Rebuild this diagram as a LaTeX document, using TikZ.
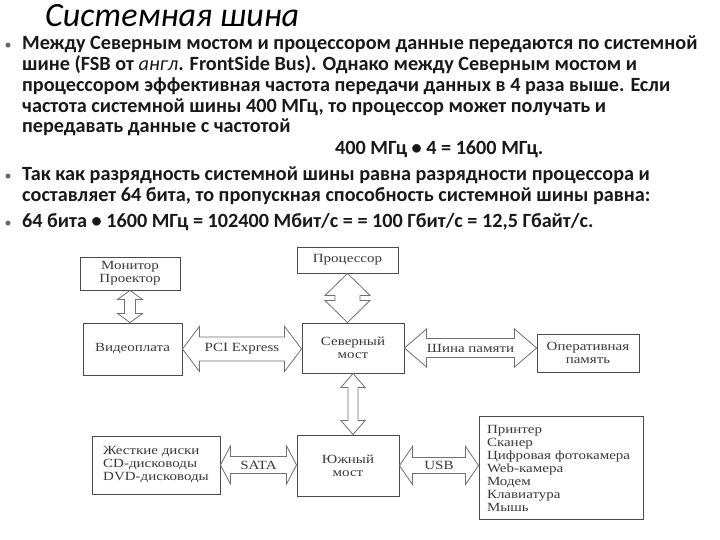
\documentclass[tikz,border=0pt]{standalone}
\usepackage{fontspec}
\setmainfont{Carlito}
\newfontfamily\figfont[FakeStretch=1.2]{Liberation Serif}
\usetikzlibrary{calc}
\definecolor{sLine}{HTML}{4A4A4A}
\definecolor{sArrow}{HTML}{707070}
\definecolor{sText}{HTML}{3A3A3A}
\tikzset{
  sbox/.style={draw=sLine, line width=0.9pt, fill=white, align=center,
               font=\figfont\fontsize{12.5}{13}\selectfont, text=sText, inner sep=2pt},
  sbus/.style={draw=sArrow, line width=0.8pt, fill=white},
  slbl/.style={font=\figfont\fontsize{12.5}{13}\selectfont, text=sText, inner sep=1pt},
  sline/.style={anchor=base west, font=\fontsize{20.2}{20.7}\selectfont\bfseries,
                text=black!90, inner sep=0pt},
  sdot/.style={anchor=base, font=\fontsize{14}{14}\selectfont, text=black!60, inner sep=0pt},
}
% wide two-headed bus arrows: from, to, shaft half width, head half width, head length
\newcommand\hbus[5]{%
  \draw[sbus] let \p1=(#1.east), \p2=(#2.west) in
    (\x1,\y1) -- (\x1+#5,\y1+#4) -- (\x1+#5,\y1+#3) -- (\x2-#5,\y1+#3)
    -- (\x2-#5,\y1+#4) -- (\x2,\y1) -- (\x2-#5,\y1-#4) -- (\x2-#5,\y1-#3)
    -- (\x1+#5,\y1-#3) -- (\x1+#5,\y1-#4) -- cycle;}
\newcommand\vbus[5]{%
  \draw[sbus] let \p1=(#1.south), \p2=(#2.north) in
    (\x1,\y1) -- (\x1+#4,\y1-#5) -- (\x1+#3,\y1-#5) -- (\x1+#3,\y2+#5)
    -- (\x1+#4,\y2+#5) -- (\x1,\y2) -- (\x1-#4,\y2+#5) -- (\x1-#3,\y2+#5)
    -- (\x1-#3,\y1-#5) -- (\x1-#4,\y1-#5) -- cycle;}

\begin{document}
\begin{tikzpicture}[x=1pt, y=-1pt]
  \useasboundingbox (0,0) rectangle (720,540);
  \fill[white] (0,0) rectangle (720,540);

  % title and text
  \node[anchor=base west, inner sep=0pt, font=\fontsize{34}{34}\selectfont\itshape]
    (title) at (45,26.5) {Системная шина};
  \node[sdot] (dot1) at (8,50) {•};
  \foreach \ln [count=\i from 0] in {
      {Между Северным мостом и процессором данные передаются по системной},
      {шине (FSB от {\mdseries\itshape англ}. FrontSide Bus). Однако между Северным мостом и},
      {процессором эффективная частота передачи данных в 4 раза выше. Если},
      {частота системной шины 400 МГц, то процессор может получать и},
      {передавать данные с частотой}}
    \node[sline] (bA\i) at (22,50+20.7*\i) {\ln};
  \node[sline] (calc) at (335,155) {400 МГц • 4 = 1600 МГц.};
  \node[sdot] (dot2) at (8,181) {•};
  \node[sline] (bB0) at (22,181) {Так как разрядность системной шины равна разрядности процессора и};
  \node[sline] (bB1) at (22,201.7) {составляет 64 бита, то пропускная способность системной шины равна:};
  \node[sdot] (dot3) at (8,227) {•};
  \node[sline] (bC0) at (22,227) {64 бита • 1600 МГц = 102400 Мбит/с = = 100 Гбит/с = 12,5 Гбайт/с.};

  % blocks
  \node[sbox, minimum width=100, minimum height=33] (mon)   at (130,273.5) {Монитор\\Проектор};
  \node[sbox, minimum width=99,  minimum height=52] (video) at (132.5,349) {Видеоплата};
  \node[sbox, minimum width=101, minimum height=26] (cpu)   at (347.5,260) {Процессор};
  \node[sbox, minimum width=102, minimum height=50] (north) at (353,348) {Северный\\мост};
  \node[sbox, minimum width=102, minimum height=38] (ram)   at (588,353) {Оперативная\\память};
  \node[sbox, minimum width=102, minimum height=61] (south) at (348,465.5) {Южный\\мост};
  \node[sbox, minimum width=128, minimum height=58, align=left] (disk) at (156,465)
    {Жесткие диски\\CD-дисководы\\DVD-дисководы};
  \node[sbox, text width=148, minimum height=100, inner sep=8pt, align=left] (usbdev) at (561,468)
    {Принтер\\Сканер\\Цифровая фотокамера\\Web-камера\\Модем\\Клавиатура\\Мышь};

  % buses
  \vbus{mon}{video}{5.5}{12.5}{9}
  \vbus{cpu}{north}{12.5}{22.5}{22}
  \vbus{north}{south}{5}{12}{14}
  \hbus{video}{north}{12}{22.5}{17}
  \hbus{north}{ram}{9.5}{19}{22}
  \hbus{disk}{south}{8.5}{19}{10}
  \hbus{south}{usbdev}{8}{19}{13}
  \node[slbl] (pci)  at ($(video.east)!0.5!(north.west |- video.east)$) {PCI Express};
  \node[slbl] (mbus) at ($(north.east)!0.5!(ram.west |- north.east)$) {Шина памяти};
  \node[slbl] (sata) at ($(disk.east)!0.5!(south.west |- disk.east)$) {SATA};
  \node[slbl] (usb)  at ($(south.east)!0.5!(usbdev.west |- south.east)$) {USB};
\end{tikzpicture}
\end{document}
